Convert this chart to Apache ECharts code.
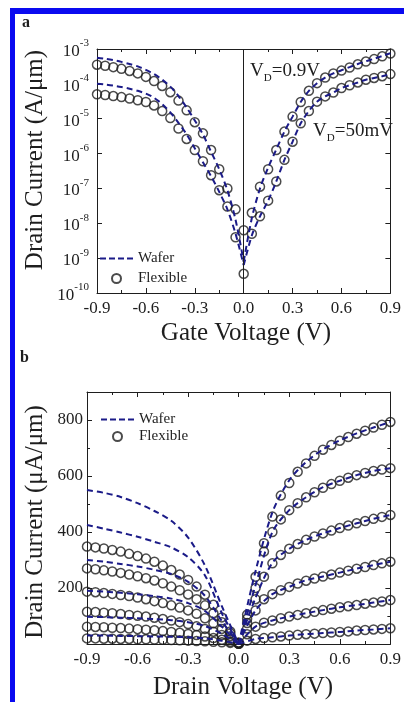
<!DOCTYPE html>
<html>
<head>
<meta charset="utf-8">
<script src="https://cdn.jsdelivr.net/npm/echarts@6/dist/echarts.min.js"></script>
<style>
  html, body { margin: 0; padding: 0; background: #fff; }
  #chart { width: 404px; height: 702px; }
</style>
</head>
<body>
<div id="chart"></div>
<script>
// voltage grids (V)
const vGrid = [-0.9, -0.85, -0.8, -0.75, -0.7, -0.65, -0.6, -0.55, -0.5, -0.45, -0.4, -0.35, -0.3, -0.25, -0.2, -0.15, -0.1, -0.05, 0,
  0.05, 0.1, 0.15, 0.2, 0.25, 0.3, 0.35, 0.4, 0.45, 0.5, 0.55, 0.6, 0.65, 0.7, 0.75, 0.8, 0.85, 0.9]
const vCoarse = [-0.9, -0.8, -0.7, -0.6, -0.5, -0.4, -0.3, -0.2, -0.1, 0, 0.1, 0.2, 0.3, 0.4, 0.5, 0.6, 0.7, 0.8, 0.9]

// panel a : log10 of drain current (A/um) vs gate voltage
const hiFlexLog = [-3.45, -3.48, -3.52, -3.57, -3.63, -3.70, -3.80, -3.92, -4.06, -4.24, -4.48, -4.76, -5.10, -5.42, -5.90, -6.45, -7.00, -7.60, -8.20,
  -7.70, -6.95, -6.45, -5.90, -5.37, -4.94, -4.52, -4.20, -3.98, -3.82, -3.70, -3.62, -3.53, -3.44, -3.36, -3.29, -3.21, -3.13]
const loFlexLog = [-4.30, -4.32, -4.35, -4.38, -4.42, -4.47, -4.52, -4.62, -4.78, -4.98, -5.28, -5.58, -5.90, -6.22, -6.62, -7.05, -7.52, -8.40, -9.45,
  -8.30, -7.80, -7.35, -6.80, -6.18, -5.66, -5.13, -4.78, -4.51, -4.36, -4.25, -4.12, -4.04, -3.96, -3.88, -3.83, -3.78, -3.72]
const hiWaferLog = [-3.25, -3.28, -3.32, -3.37, -3.43, -3.50, -3.60, -3.72, -3.88, -4.08, -4.35, -4.68, -5.05, -5.45, -5.95, -6.45, -7.05, -7.90, -9.10,
  -7.85, -7.00, -6.40, -5.88, -5.37, -4.94, -4.52, -4.20, -3.98, -3.82, -3.70, -3.61, -3.52, -3.43, -3.35, -3.28, -3.20, -3.12]
const loWaferLog = [-4.00, -4.02, -4.05, -4.09, -4.14, -4.20, -4.28, -4.40, -4.58, -4.82, -5.12, -5.45, -5.85, -6.25, -6.65, -7.10, -7.60, -8.30, -9.20,
  -8.35, -7.80, -7.35, -6.80, -6.18, -5.66, -5.13, -4.78, -4.51, -4.36, -4.25, -4.12, -4.04, -3.96, -3.88, -3.83, -3.78, -3.72]

// panel b : |drain current| (uA/um) vs drain voltage, one curve per gate voltage
const flex1 = [348, 345, 341, 336, 330, 322, 314, 305, 294, 280, 264, 248, 229, 205, 176, 140, 95, 45, 5,
  105, 240, 360, 455, 530, 575, 615, 645, 672, 694, 711, 726, 739, 751, 762, 773, 783, 793]
const flex2 = [270, 267, 263, 259, 254, 248, 242, 235, 227, 217, 205, 192, 177, 160, 138, 110, 78, 38, 4,
  90, 200, 330, 400, 445, 478, 503, 524, 542, 558, 571, 583, 594, 603, 611, 618, 623, 628]
const flex3 = [187, 185, 182, 179, 175, 171, 166, 160, 153, 146, 138, 130, 120, 108, 92, 74, 54, 28, 3,
  75, 160, 240, 288, 318, 340, 357, 372, 384, 395, 405, 414, 423, 431, 439, 447, 454, 461]
const flex4 = [115, 114, 112, 110, 107, 104, 101, 98, 94, 89, 84, 78, 71, 63, 54, 44, 32, 17, 2,
  55, 120, 160, 178, 192, 204, 216, 226, 234, 241, 248, 255, 262, 269, 275, 282, 288, 294]
const flex5 = [62, 61, 60, 58, 57, 55, 53, 51, 49, 46, 43, 40, 36, 32, 27, 21, 15, 8, 1,
  35, 62, 76, 84, 92, 98, 104, 110, 115, 121, 126, 131, 135, 139, 144, 148, 152, 157]
const flex6 = [20, 20, 19, 19, 18, 18, 17, 17, 16, 15, 14, 13, 12, 11, 10, 8, 6, 4, 1,
  12, 18, 21, 24, 27, 30, 33, 35, 37, 39, 41, 43, 45, 48, 50, 52, 54, 56]
const wafer1 = [550, 540, 525, 503, 475, 440, 380, 280, 135, 0, 260, 470, 585, 650, 695, 727, 752, 773, 793]
const wafer2 = [425, 412, 398, 383, 365, 345, 310, 245, 110, 0, 210, 400, 478, 524, 560, 583, 603, 618, 628]
const wafer3 = [300, 294, 286, 277, 265, 250, 222, 172, 82, 0, 165, 290, 340, 372, 395, 414, 431, 447, 461]
const wafer4 = [190, 187, 183, 178, 171, 162, 146, 118, 62, 0, 120, 178, 204, 228, 241, 255, 269, 282, 294]
const wafer5 = [97, 96, 94, 92, 89, 85, 78, 64, 36, 0, 62, 84, 98, 110, 121, 131, 139, 148, 157]
const wafer6 = [30, 30, 29, 28, 27, 26, 24, 20, 12, 0, 18, 24, 30, 35, 39, 43, 48, 52, 56]

const FONT = 'Liberation Serif'
const INK = '#1e1e1e'
const NAVY = '#1b1b88'
// three dashes for the Wafer legend key
const DASH_ICON = 'path://M0,0h6v2h-6z M9,0h6v2h-6z M18,0h6v2h-6z M27,0h6v2h-6z'

const toAmp = v => Math.pow(10, v)

function pairs (xs, ys, f) {
  return xs.map((x, i) => [x, f ? f(ys[i]) : ys[i]])
}

// wafer curves are split at 0 V so smoothing keeps the sharp minimum
function waferLines (xs, ys, axis, f) {
  let k = xs.indexOf(0)
  let pts = pairs(xs, ys, f)
  return [pts.slice(0, k + 1), pts.slice(k)].map(d => ({
    name: 'Wafer',
    type: 'line',
    xAxisIndex: axis,
    yAxisIndex: axis,
    data: d,
    smooth: 0.3,
    symbol: 'none',
    showSymbol: false,
    z: 3,
    lineStyle: { color: NAVY, width: 2, type: [6, 4] },
    itemStyle: { color: NAVY }
  }))
}

function flexDots (xs, ys, axis, f) {
  return {
    name: 'Flexible',
    type: 'scatter',
    xAxisIndex: axis,
    yAxisIndex: axis,
    data: pairs(xs, ys, f),
    symbol: 'circle',
    symbolSize: 9,
    z: 2,
    itemStyle: { color: 'rgba(255,255,255,0)', borderColor: INK, borderWidth: 1.5 }
  }
}

function xAxes (grid) {
  let common = {
    type: 'value', gridIndex: grid, min: -0.9, max: 0.9, interval: 0.3,
    axisLine: { show: true, onZero: false, lineStyle: { color: INK, width: 1 } },
    axisTick: { show: true, inside: true, length: 5, lineStyle: { color: INK } },
    minorTick: { show: true, splitNumber: 2, length: 3, lineStyle: { color: INK } },
    splitLine: { show: false }
  }
  return [
    Object.assign({}, common, {
      position: 'bottom',
      axisLabel: { margin: 7, fontFamily: FONT, fontSize: 17, color: INK, formatter: v => v.toFixed(1) }
    }),
    Object.assign({}, common, { position: 'top', axisLabel: { show: false } })
  ]
}

function yFrame (grid, pos, extra) {
  return Object.assign({
    gridIndex: grid, position: pos,
    axisLine: { show: true, onZero: false, lineStyle: { color: INK } },
    axisTick: { show: true, inside: true, length: 5, lineStyle: { color: INK } },
    splitLine: { show: false },
    axisLabel: { show: false }
  }, extra)
}

let myChart = echarts.init(document.getElementById('chart'))

let logY = { type: 'log', logBase: 10, min: 1e-10, max: 1e-3 }
let linY = {
  type: 'value', min: 0, max: 900, interval: 200,
  minorTick: { show: true, splitNumber: 2, length: 3, lineStyle: { color: INK } }
}

let option = {
  animation: false,
  backgroundColor: '#fff',
  grid: [
    { left: 97, top: 49, right: 7, bottom: 409 },
    { left: 87, top: 392, right: 6, bottom: 58 }
  ],
  // x axes: 0 bottom a, 1 top a, 2 bottom b, 3 top b
  xAxis: [].concat(xAxes(0), xAxes(1)),
  // y axes: 0 left a, 1 right a, 2 left b, 3 right b
  yAxis: [
    yFrame(0, 'left', Object.assign({}, logY, {
      axisLabel: {
        margin: 8, fontFamily: FONT, color: INK,
        formatter: v => '{b|10}{e|' + Math.round(Math.log10(v)) + '}',
        rich: {
          b: { fontFamily: FONT, fontSize: 17, lineHeight: 22, verticalAlign: 'bottom', color: INK },
          e: { fontFamily: FONT, fontSize: 11, lineHeight: 11, verticalAlign: 'top', color: INK }
        }
      }
    })),
    yFrame(0, 'right', logY),
    yFrame(1, 'left', Object.assign({}, linY, {
      axisLabel: { margin: 4, fontFamily: FONT, fontSize: 17, color: INK, showMinLabel: false, showMaxLabel: false }
    })),
    yFrame(1, 'right', linY)
  ],
  legend: [
    {
      left: 95, top: 246, orient: 'vertical', itemWidth: 33, itemHeight: 9, itemGap: 5,
      selectedMode: false,
      data: [{ name: 'Wafer', icon: DASH_ICON, itemStyle: { color: NAVY } }, 'Flexible'],
      textStyle: { fontFamily: FONT, fontSize: 15, color: INK }
    },
    {
      left: 96, top: 407, orient: 'vertical', itemWidth: 33, itemHeight: 9, itemGap: 2,
      selectedMode: false,
      data: [{ name: 'Wafer', icon: DASH_ICON, itemStyle: { color: NAVY } }, 'Flexible'],
      textStyle: { fontFamily: FONT, fontSize: 15, color: INK }
    }
  ],
  graphic: [
    // blue frame of the figure page
    { type: 'rect', shape: { x: 10, y: 8, width: 5, height: 700 }, style: { fill: '#0a0af0' }, silent: true },
    { type: 'rect', shape: { x: 10, y: 8, width: 400, height: 6 }, style: { fill: '#0a0af0' }, silent: true },
    { type: 'text', x: 22, y: 15, style: { text: 'a', font: 'bold 16px ' + FONT, fill: INK } },
    { type: 'text', x: 20, y: 350, style: { text: 'b', font: 'bold 16px ' + FONT, fill: INK } },
    {
      type: 'text', x: 35, y: 160, rotation: Math.PI / 2,
      style: { text: 'Drain Current (A/μm)', font: '25px ' + FONT, fill: INK, textAlign: 'center', textVerticalAlign: 'middle' }
    },
    {
      type: 'text', x: 35, y: 522, rotation: Math.PI / 2,
      style: { text: 'Drain Current (μA/μm)', font: '25px ' + FONT, fill: INK, textAlign: 'center', textVerticalAlign: 'middle' }
    },
    {
      type: 'text', x: 246, y: 333,
      style: { text: 'Gate Voltage (V)', font: '25px ' + FONT, fill: INK, textAlign: 'center', textVerticalAlign: 'middle' }
    },
    {
      type: 'text', x: 243, y: 687,
      style: { text: 'Drain Voltage (V)', font: '25px ' + FONT, fill: INK, textAlign: 'center', textVerticalAlign: 'middle' }
    },
    {
      type: 'text', x: 250, y: 62,
      style: {
        text: '{v|V}{s|D}{v|=0.9V}',
        rich: {
          v: { fontFamily: FONT, fontSize: 19, lineHeight: 22, verticalAlign: 'top', fill: INK },
          s: { fontFamily: FONT, fontSize: 11, lineHeight: 11, verticalAlign: 'bottom', fill: INK }
        }
      }
    },
    {
      type: 'text', x: 313, y: 122,
      style: {
        text: '{v|V}{s|D}{v|=50mV}',
        rich: {
          v: { fontFamily: FONT, fontSize: 19, lineHeight: 22, verticalAlign: 'top', fill: INK },
          s: { fontFamily: FONT, fontSize: 11, lineHeight: 11, verticalAlign: 'bottom', fill: INK }
        }
      }
    }
  ],
  series: [].concat(
    waferLines(vGrid, hiWaferLog, 0, toAmp),
    waferLines(vGrid, loWaferLog, 0, toAmp),
    flexDots(vGrid, hiFlexLog, 0, toAmp),
    flexDots(vGrid, loFlexLog, 0, toAmp),
    [{
      // vertical line at Vg = 0
      name: 'zero', type: 'line', xAxisIndex: 0, yAxisIndex: 0, data: [], symbol: 'none',
      markLine: {
        silent: true, symbol: 'none', label: { show: false },
        lineStyle: { color: INK, width: 1, type: 'solid' },
        data: [{ xAxis: 0 }]
      }
    }],
    waferLines(vCoarse, wafer1, 2),
    waferLines(vCoarse, wafer2, 2),
    waferLines(vCoarse, wafer3, 2),
    waferLines(vCoarse, wafer4, 2),
    waferLines(vCoarse, wafer5, 2),
    waferLines(vCoarse, wafer6, 2),
    flexDots(vGrid, flex1, 2),
    flexDots(vGrid, flex2, 2),
    flexDots(vGrid, flex3, 2),
    flexDots(vGrid, flex4, 2),
    flexDots(vGrid, flex5, 2),
    flexDots(vGrid, flex6, 2)
  )
}
myChart.setOption(option)
</script>
</body>
</html>
